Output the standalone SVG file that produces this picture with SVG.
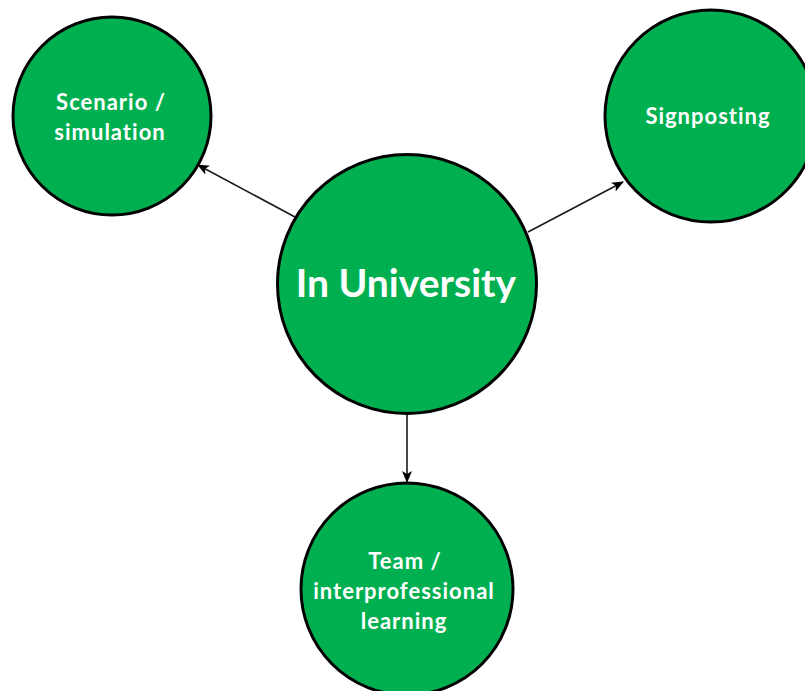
<svg xmlns="http://www.w3.org/2000/svg" width="805" height="691" viewBox="0 0 805 691">
<style>
.node circle{fill:#00B050;stroke:#000;stroke-width:3}
.node text{fill:#fff;font-family:Lato,"Liberation Sans",sans-serif;font-weight:bold;text-anchor:middle}
.small{font-size:22px;letter-spacing:1px}
.big{font-size:39px}
.conn line{stroke:#1a1a1a;stroke-width:1.6;fill:none}
</style>
<defs>
<marker id="arr" viewBox="0 0 12 10" refX="11" refY="5" markerWidth="12" markerHeight="10" markerUnits="userSpaceOnUse" orient="auto">
<path d="M0,0 L12,5 L0,10 L3,5 z" fill="#000"/>
</marker>
</defs>
<rect width="805" height="691" fill="#fff"/>
<g id="connectors" class="conn">
<line x1="295" y1="217" x2="198" y2="165" marker-end="url(#arr)"/>
<line x1="528" y1="232" x2="623" y2="182" marker-end="url(#arr)"/>
<line x1="407" y1="413" x2="407" y2="482" marker-end="url(#arr)"/>
</g>
<g id="node-scenario" class="node">
<circle cx="112" cy="116" r="99"/>
<text class="small" x="111" y="110">Scenario /</text>
<text class="small" x="110" y="140">simulation</text>
</g>
<g id="node-signposting" class="node">
<circle cx="711" cy="116" r="106"/>
<text class="small" x="708" y="124">Signposting</text>
</g>
<g id="node-university" class="node">
<circle cx="407" cy="284" r="129.5"/>
<text class="big" x="406" y="297">In University</text>
</g>
<g id="node-team" class="node">
<circle cx="407" cy="589" r="106"/>
<text class="small" x="405" y="569">Team /</text>
<text class="small" x="404" y="599">interprofessional</text>
<text class="small" x="404" y="629">learning</text>
</g>
</svg>
